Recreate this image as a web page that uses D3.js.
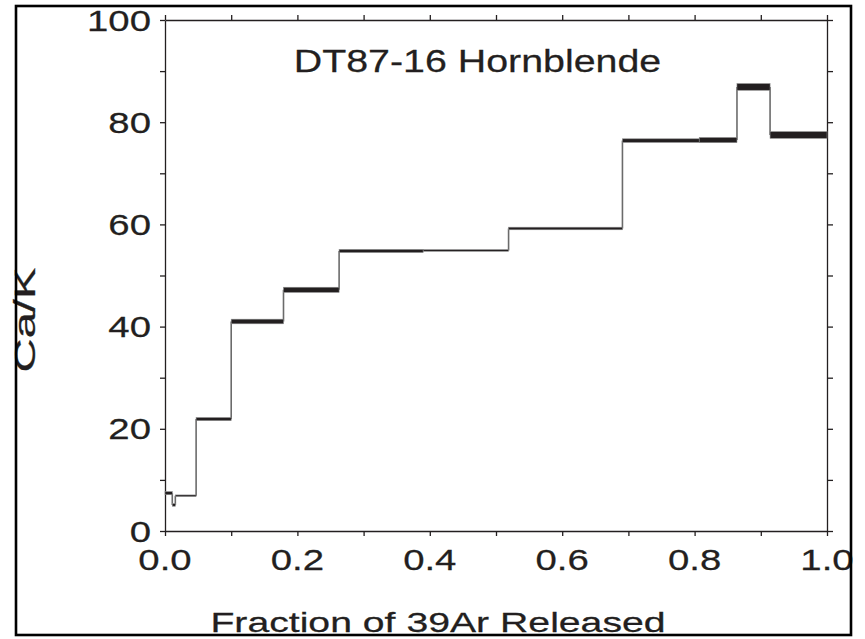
<!DOCTYPE html>
<html>
<head>
<meta charset="utf-8">
<script src="https://cdn.jsdelivr.net/npm/d3@7"></script>
<style>
  html, body { margin: 0; padding: 0; background: #fff; }
  svg { display: block; }
  text { font-family: "Liberation Sans", Arial, Helvetica, sans-serif; fill: #231f20; stroke: #231f20; stroke-width: 0.25px; }
</style>
</head>
<body>
<svg id="chart" width="865" height="639"></svg>
<script>
// Step-heating spectrum: Ca/K ratio per heating step vs cumulative 39Ar fraction
const stepEdges = [0, 0.011, 0.0156, 0.047, 0.1, 0.179, 0.263, 0.39, 0.519, 0.691, 0.807, 0.864, 0.914, 1.0];
const caK       = [7.4, 5.1, 6.9, 21.9, 41.0, 47.2, 54.8, 54.9, 59.2, 76.4, 76.5, 86.9, 77.5];
const caKErr    = [0.3, 0.25, 0.1, 0.3, 0.45, 0.5, 0.3, 0.15, 0.25, 0.35, 0.5, 0.65, 0.65];

const xTickValues = d3.range(0, 11).map(i => i / 10);
const xTickLabels = ["0.0", "0.2", "0.4", "0.6", "0.8", "1.0"];
const yTickValues = d3.range(0, 11).map(i => i * 10);
const yTickLabels = ["0", "20", "40", "60", "80", "100"];

const title = "DT87-16 Hornblende";
const xTitle = "Fraction of 39Ar Released";
const yTitle = "Ca/K";

const svg = d3.select("#chart");
const ink = "#231f20";

const x = d3.scaleLinear().domain([0, 1]).range([165, 827]);
const y = d3.scaleLinear().domain([0, 100]).range([531, 20]);

// Axes on all four sides, ticks pointing outward
function styleAxis(g) {
  g.selectAll("path.domain").attr("stroke", ink).attr("stroke-width", 1.3);
  g.selectAll(".tick line").attr("stroke", ink).attr("stroke-width", 1.3);
  g.selectAll(".tick text").remove();
}
svg.append("g").attr("transform", `translate(0,${y(0)})`)
  .call(d3.axisBottom(x).tickValues(xTickValues).tickSize(5).tickSizeOuter(0))
  .call(styleAxis);
svg.append("g").attr("transform", `translate(0,${y(100)})`)
  .call(d3.axisTop(x).tickValues(xTickValues).tickSize(5).tickSizeOuter(0))
  .call(styleAxis);
svg.append("g").attr("transform", `translate(${x(0)},0)`)
  .call(d3.axisLeft(y).tickValues(yTickValues).tickSize(5).tickSizeOuter(0))
  .call(styleAxis);
svg.append("g").attr("transform", `translate(${x(1)},0)`)
  .call(d3.axisRight(y).tickValues(yTickValues).tickSize(6).tickSizeOuter(0))
  .call(styleAxis);

// Text helper: wide-set glyphs via horizontal scaling about the anchor
function label(px, py, str, size, sx, anchor, rot) {
  const g = svg.append("g")
    .attr("transform", `translate(${px},${py}) rotate(${rot || 0}) scale(${sx},1)`);
  g.append("text")
    .attr("font-size", size)
    .attr("text-anchor", anchor)
    .text(str);
  return g;
}

// Tick labels
yTickLabels.forEach(t => label(151, y(+t) + 10.6, t, 29.5, 1.3, "end"));
xTickLabels.forEach(t => label(x(+t), 570, t, 29.5, 1.3, "middle"));

// Step spectrum: vertical connectors between heating steps
const links = caK.slice(1).map((v, i) => ({ f: stepEdges[i + 1], a: caK[i], b: v }));
svg.append("g").selectAll("line").data(links).join("line")
  .attr("x1", d => x(d.f)).attr("x2", d => x(d.f))
  .attr("y1", d => y(d.a)).attr("y2", d => y(d.b))
  .attr("stroke", "#6b6b6b").attr("stroke-width", 1.6);

// Step boxes: height is ±1σ on Ca/K
const steps = caK.map((v, i) => ({ f0: stepEdges[i], f1: stepEdges[i + 1], v, e: caKErr[i] }));
svg.append("g").selectAll("rect").data(steps).join("rect")
  .attr("x", d => x(d.f0))
  .attr("width", d => x(d.f1) - x(d.f0))
  .attr("y", d => Math.min(y(d.v + d.e), y(d.v) - 0.8))
  .attr("height", d => Math.max(y(d.v - d.e) - y(d.v + d.e), 1.6))
  .attr("fill", ink)
  .attr("stroke", "#8a8a8a").attr("stroke-width", 0.6);

// Titles
label(477.5, 71.7, title, 32, 1.23, "middle");
label(438, 632, xTitle, 28, 1.4, "middle");
label(35, 320, yTitle, 29.5, 1.6, "middle", -90);

// Figure border drawn last so it sits above edge text
svg.append("rect")
  .attr("x", 16).attr("y", 6).attr("width", 835).attr("height", 629)
  .attr("fill", "none").attr("stroke", "#000").attr("stroke-width", 2.6);
</script>
</body>
</html>
